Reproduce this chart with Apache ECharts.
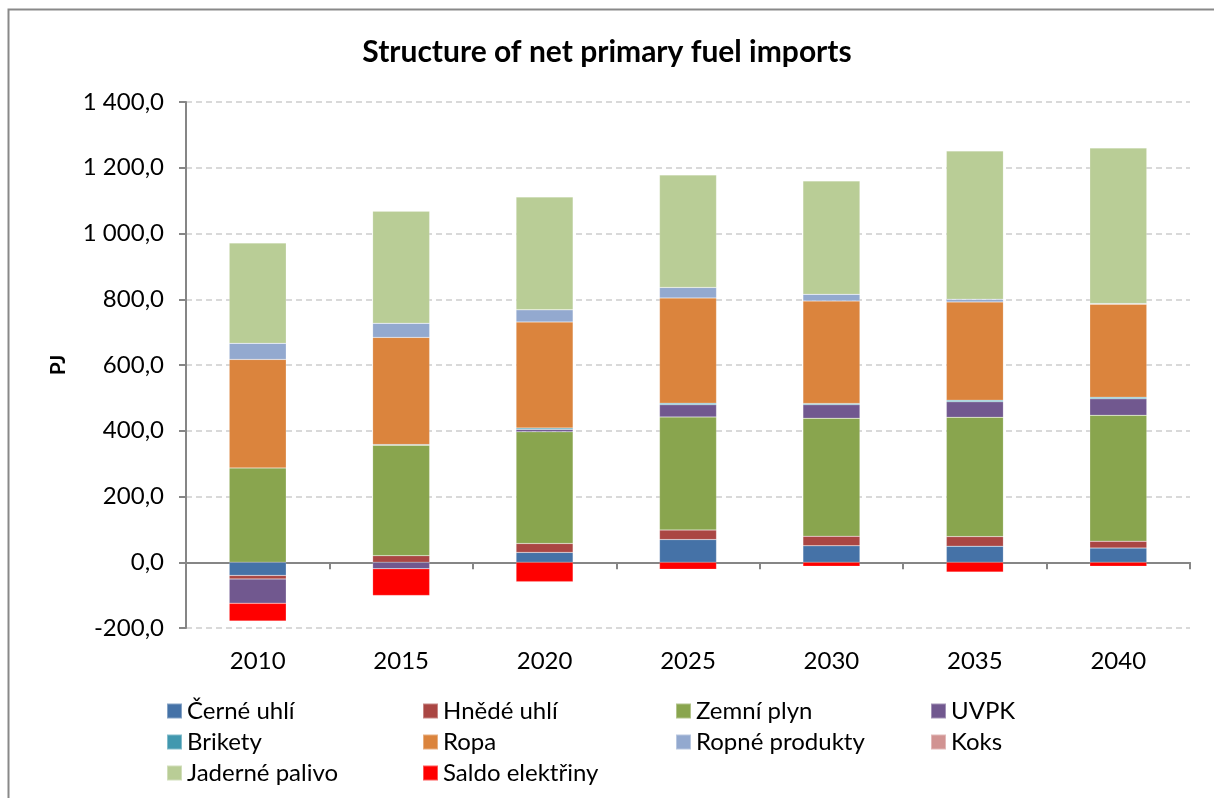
<!DOCTYPE html>
<html>
<head>
<meta charset="utf-8">
<script src="https://cdn.jsdelivr.net/npm/echarts@6/dist/echarts.min.js"></script>
<style>
  html, body { margin: 0; padding: 0; background: #fff; }
  #chart { width: 1214px; height: 798px; }
</style>
</head>
<body>
<div id="chart"></div>
<script>
// roky
const years = ['2010', '2015', '2020', '2025', '2030', '2035', '2040'];

// hodnoty v PJ
const cerneUhli = [-40, 0, 30, 69, 50, 49, 43];
const hnedeUhli = [-11, 20, 27, 29, 29, 29, 21];
const zemniPlyn = [287, 336, 340, 344, 359, 363, 383];
const uvpk = [-74, -20, 7, 37, 41, 47, 50];
const brikety = [0, 2, 4, 5, 4, 5, 5];
const ropa = [330, 326, 323, 320, 312, 299, 283];
const ropneProdukty = [49, 43, 37, 32, 20, 8, 2];
const koks = [0, 0, 0, 0, 0, 0, 0];
const jadernePalivo = [305, 341, 343, 342, 345, 451, 473];
const saldoElektriny = [-54, -81, -59, -21, -12, -30, -12];

const font = 'Lato, "Open Sans", sans-serif';

// formát čísel: "1 400,0"
const fmt = (v) => {
  const s = Math.abs(v).toFixed(1).split('.');
  const int = s[0].replace(/\B(?=(\d{3})+(?!\d))/g, ' ');
  return (v < 0 ? '-' : '') + int + ',' + s[1];
};

const seriesDefs = [
  { name: 'Černé uhlí', data: cerneUhli, color: '#4572A7' },
  { name: 'Hnědé uhlí', data: hnedeUhli, color: '#AA4643' },
  { name: 'Zemní plyn', data: zemniPlyn, color: '#89A54E' },
  { name: 'UVPK', data: uvpk, color: '#71588F' },
  { name: 'Brikety', data: brikety, color: '#4198AF' },
  { name: 'Ropa', data: ropa, color: '#DB843D' },
  { name: 'Ropné produkty', data: ropneProdukty, color: '#93A9CF' },
  { name: 'Koks', data: koks, color: '#D19392' },
  { name: 'Jaderné palivo', data: jadernePalivo, color: '#B9CD96' },
  { name: 'Saldo elektřiny', data: saldoElektriny, color: '#FF0000' }
];

const legendCols = [
  { left: 166, items: ['Černé uhlí', 'Brikety', 'Jaderné palivo'] },
  { left: 422, items: ['Hnědé uhlí', 'Ropa', 'Saldo elektřiny'] },
  { left: 675, items: ['Zemní plyn', 'Ropné produkty'] },
  { left: 930, items: ['UVPK', 'Koks'] }
];

const chart = echarts.init(document.getElementById('chart'));

const option = {
  animation: false,
  backgroundColor: '#fff',
  textStyle: { fontFamily: font },
  graphic: [{
    type: 'rect',
    shape: { x: 8.5, y: 9.5, width: 1230, height: 820 },
    style: { fill: 'none', stroke: '#898989', lineWidth: 2 },
    silent: true
  }],
  title: {
    text: 'Structure of net primary fuel imports',
    left: 'center',
    top: 32,
    textStyle: { fontFamily: font, fontSize: 30, fontWeight: 'bold', color: '#000' }
  },
  legend: legendCols.map(c => ({
    orient: 'vertical',
    left: c.left,
    top: 697,
    padding: 0,
    data: c.items,
    icon: 'rect',
    itemWidth: 15,
    itemHeight: 15,
    itemGap: 3,
    selectedMode: false,
    textStyle: { fontFamily: font, fontSize: 24, color: '#000', lineHeight: 28 }
  })),
  grid: { left: 186, right: 24, top: 102, bottom: 170, containLabel: false },
  xAxis: [
    {
      type: 'category',
      data: years,
      axisLine: { onZero: true, lineStyle: { color: '#868686', width: 2 } },
      axisTick: { show: true, length: 7, lineStyle: { color: '#868686', width: 2 } },
      axisLabel: { show: false }
    },
    {
      type: 'category',
      data: years,
      position: 'bottom',
      axisLine: { show: false, onZero: false },
      axisTick: { show: false },
      axisLabel: { fontFamily: font, fontSize: 24, color: '#000', margin: 21 }
    }
  ],
  yAxis: {
    type: 'value',
    min: -200,
    max: 1400,
    interval: 200,
    name: 'PJ',
    nameLocation: 'middle',
    nameGap: 117,
    nameTextStyle: { fontFamily: font, fontSize: 21, fontWeight: 'bold', color: '#000' },
    axisLine: { show: true, lineStyle: { color: '#868686', width: 2 } },
    axisTick: { show: true, length: 7, lineStyle: { color: '#868686', width: 2 } },
    axisLabel: { fontFamily: font, fontSize: 24, color: '#000', margin: 22, formatter: fmt },
    splitLine: { show: true, lineStyle: { color: '#D9D9D9', type: [6, 4], width: 2 } }
  },
  series: seriesDefs.map(s => ({
    name: s.name,
    type: 'bar',
    stack: 'total',
    data: s.data,
    barWidth: 57,
    xAxisIndex: 0,
    itemStyle: { color: s.color, borderColor: 'rgba(255,255,255,0.35)', borderWidth: 0.5 }
  }))
};

chart.setOption(option);
</script>
</body>
</html>
